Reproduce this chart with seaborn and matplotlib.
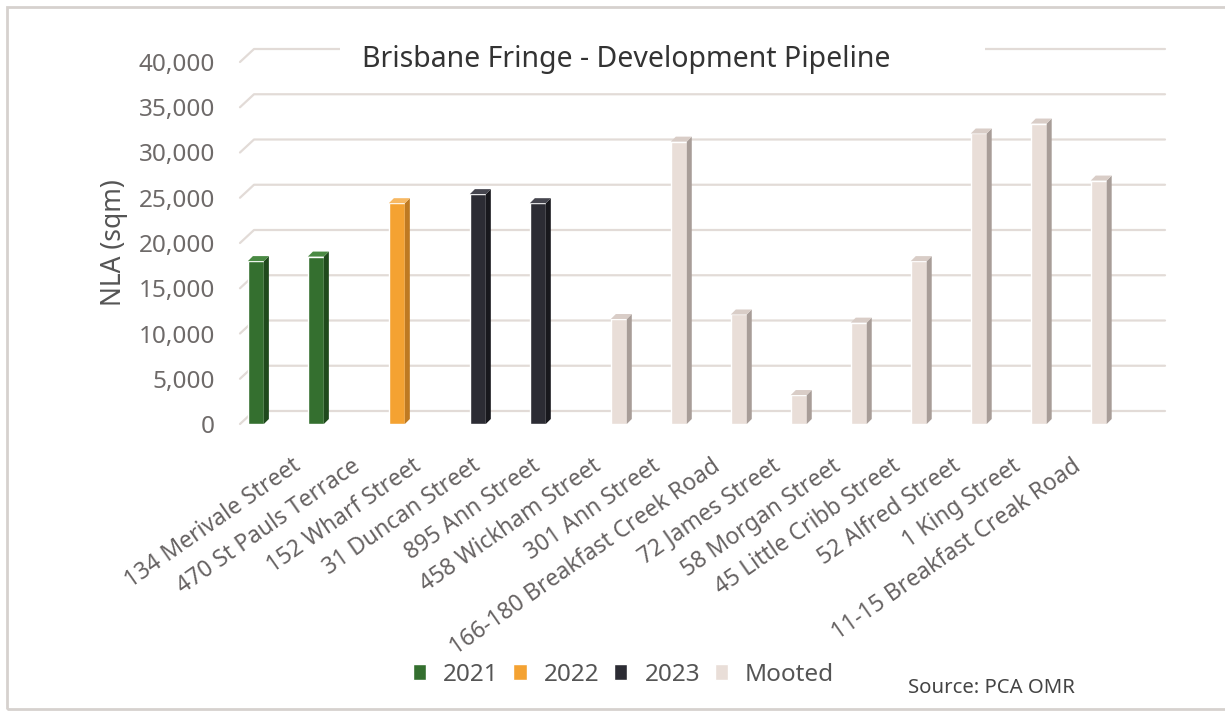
import numpy as np
import pandas as pd
import matplotlib
matplotlib.use('Agg')
import matplotlib.pyplot as plt
import matplotlib.transforms as mtransforms
from matplotlib.patches import Polygon, Rectangle
from matplotlib.ticker import FuncFormatter
import seaborn as sns

# data
sites = ['134 Merivale Street', '470 St Pauls Terrace', '152 Wharf Street',
         '31 Duncan Street', '895 Ann Street', '458 Wickham Street',
         '301 Ann Street', '166-180 Breakfast Creek Road', '72 James Street',
         '58 Morgan Street', '45 Little Cribb Street', '52 Alfred Street',
         '1 King Street', '11-15 Breakfast Creak Road']
nla = [18000, 18500, 24400, 25400, 24400, 11600, 31200, 12100, 3200,
       11200, 18000, 32100, 33200, 26900]
stage = ['2021', '2021', '2022', '2023', '2023'] + ['Mooted'] * 9
stage_order = ['2021', '2022', '2023', 'Mooted']
yticks = [0, 5000, 10000, 15000, 20000, 25000, 30000, 35000, 40000]

front = {'2021': '#346f2f', '2022': '#f4a232', '2023': '#2c2c34', 'Mooted': '#e9ded8'}
side = {'2021': '#1f4a1c', '2022': '#bf7a22', '2023': '#18181d', 'Mooted': '#a89d98'}
top = {'2021': '#4a8a43', '2022': '#f7b862', '2023': '#45454e', 'Mooted': '#d9cdc7'}

df = pd.DataFrame({'site': sites, 'nla': nla, 'stage': stage})

sns.set_style('white')
plt.rcParams['font.family'] = ['Noto Sans', 'DejaVu Sans']

fig = plt.figure(figsize=(12.25, 7.14), dpi=100)
ax = fig.add_axes([240/1225, 1-424/714, 925/1225, (424-62)/714])

sns.barplot(data=df, x='site', y='nla', hue='stage', hue_order=stage_order,
            palette=front, dodge=True, width=1.4, gap=0.24, saturation=1,
            ax=ax, zorder=3)

ax.set_xlim(-0.79, 14.63)
ax.set_ylim(0, 40000)
ax.set_yticks(yticks)
ax.yaxis.set_major_formatter(FuncFormatter(lambda v, p: f'{v:,.0f}'))

# px -> data units for the 3d look
sx = 1 / 60.0
sy = 40000 / 362.0
dx, dy = 5 * sx, 5 * sy

# side and top faces of each column
for p, st in zip([b for b in ax.patches if b.get_height() > 0],
                 [s for s in stage_order for _ in range(stage.count(s))]):
    x0, w, h = p.get_x(), p.get_width(), p.get_height()
    ax.add_patch(Polygon([(x0 + w, 0), (x0 + w + dx, dy), (x0 + w + dx, h + dy), (x0 + w, h)],
                         closed=True, facecolor=side[st], edgecolor='none', zorder=3))
    ax.add_patch(Polygon([(x0, h), (x0 + dx, h + dy), (x0 + w + dx, h + dy), (x0 + w, h)],
                         closed=True, facecolor=top[st], edgecolor='none', zorder=3))

# back wall gridlines with the little diagonal at the left
blend = mtransforms.blended_transform_factory(ax.transAxes, ax.transData)
gx = 14 / 925
gy = 13 * sy
for v in yticks:
    ax.plot([0, gx, 1], [v, v + gy, v + gy], transform=blend, color='#e2dbd7',
            lw=1.6, zorder=1, clip_on=False)

for s in ax.spines.values():
    s.set_visible(False)
ax.grid(False)

ax.tick_params(axis='y', length=0, pad=18, labelsize=17.5, labelcolor='#6e6a69')
ax.tick_params(axis='x', length=0, pad=0, labelsize=16.5, labelcolor='#666262')
ax.set_xlabel('')
ax.set_ylabel('NLA (sqm)', fontsize=19, color='#555555', labelpad=8)

offset = mtransforms.ScaledTranslation(4/100, -30/100, fig.dpi_scale_trans)
for lab in ax.get_xticklabels():
    lab.set_rotation(35)
    lab.set_ha('right')
    lab.set_va('top')
    lab.set_rotation_mode('anchor')
    lab.set_transform(lab.get_transform() + offset)

handles, labels = ax.get_legend_handles_labels()
ax.get_legend().remove()
fig.legend(handles, labels, loc='center', bbox_to_anchor=(0.509, 0.055), ncol=4,
           frameon=False, fontsize=17.5, handlelength=0.55, handleheight=0.6,
           handletextpad=0.7, columnspacing=0.6, labelcolor='#555555')

# title sits on the top gridline
fig.patches.append(Rectangle((340/1225, 1-80/714), 645/1225, 40/714,
                             transform=fig.transFigure, facecolor='white',
                             edgecolor='none', zorder=5))
fig.text(0.511, 1-60/714, 'Brisbane Fringe - Development Pipeline', ha='center',
         va='center', fontsize=20.5, color='#333333', zorder=6)

fig.text(908/1225, 1-688/714, 'Source: PCA OMR', ha='left', va='center',
         fontsize=14.6, color='#444444')

# outer frame
fig.patches.append(Rectangle((7/1225, 5/714), 1.2, 1-12/714, transform=fig.transFigure,
                             facecolor='none', edgecolor='#d6d1ce', lw=2, zorder=0))

fig.savefig('out.png', dpi=100)
